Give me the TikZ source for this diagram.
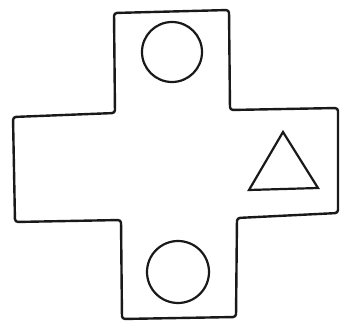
\documentclass[tikz,border=0pt]{standalone}
\begin{document}
\begin{tikzpicture}[x=1pt,y=-1pt,
  outline/.style={draw=black!90,line width=2.4pt,line join=round,rounded corners=3pt},
  shapeline/.style={draw=black!90,line width=2.2pt}]
\useasboundingbox[fill=white] (0,0) rectangle (343,331);
\draw[outline] (114,13) -- (229,10) -- (230,110) -- (338,108) -- (338,213)
  -- (237,218) -- (236,317) -- (122,319) -- (121,220) -- (15,222)
  -- (13,117) -- (115,113) -- cycle;
\draw[shapeline] (172,52) circle (30);
\draw[shapeline] (178,272) circle (31);
\draw[shapeline,line join=miter] (283,132) -- (318,188) -- (249,190) -- cycle;
\end{tikzpicture}
\end{document}
